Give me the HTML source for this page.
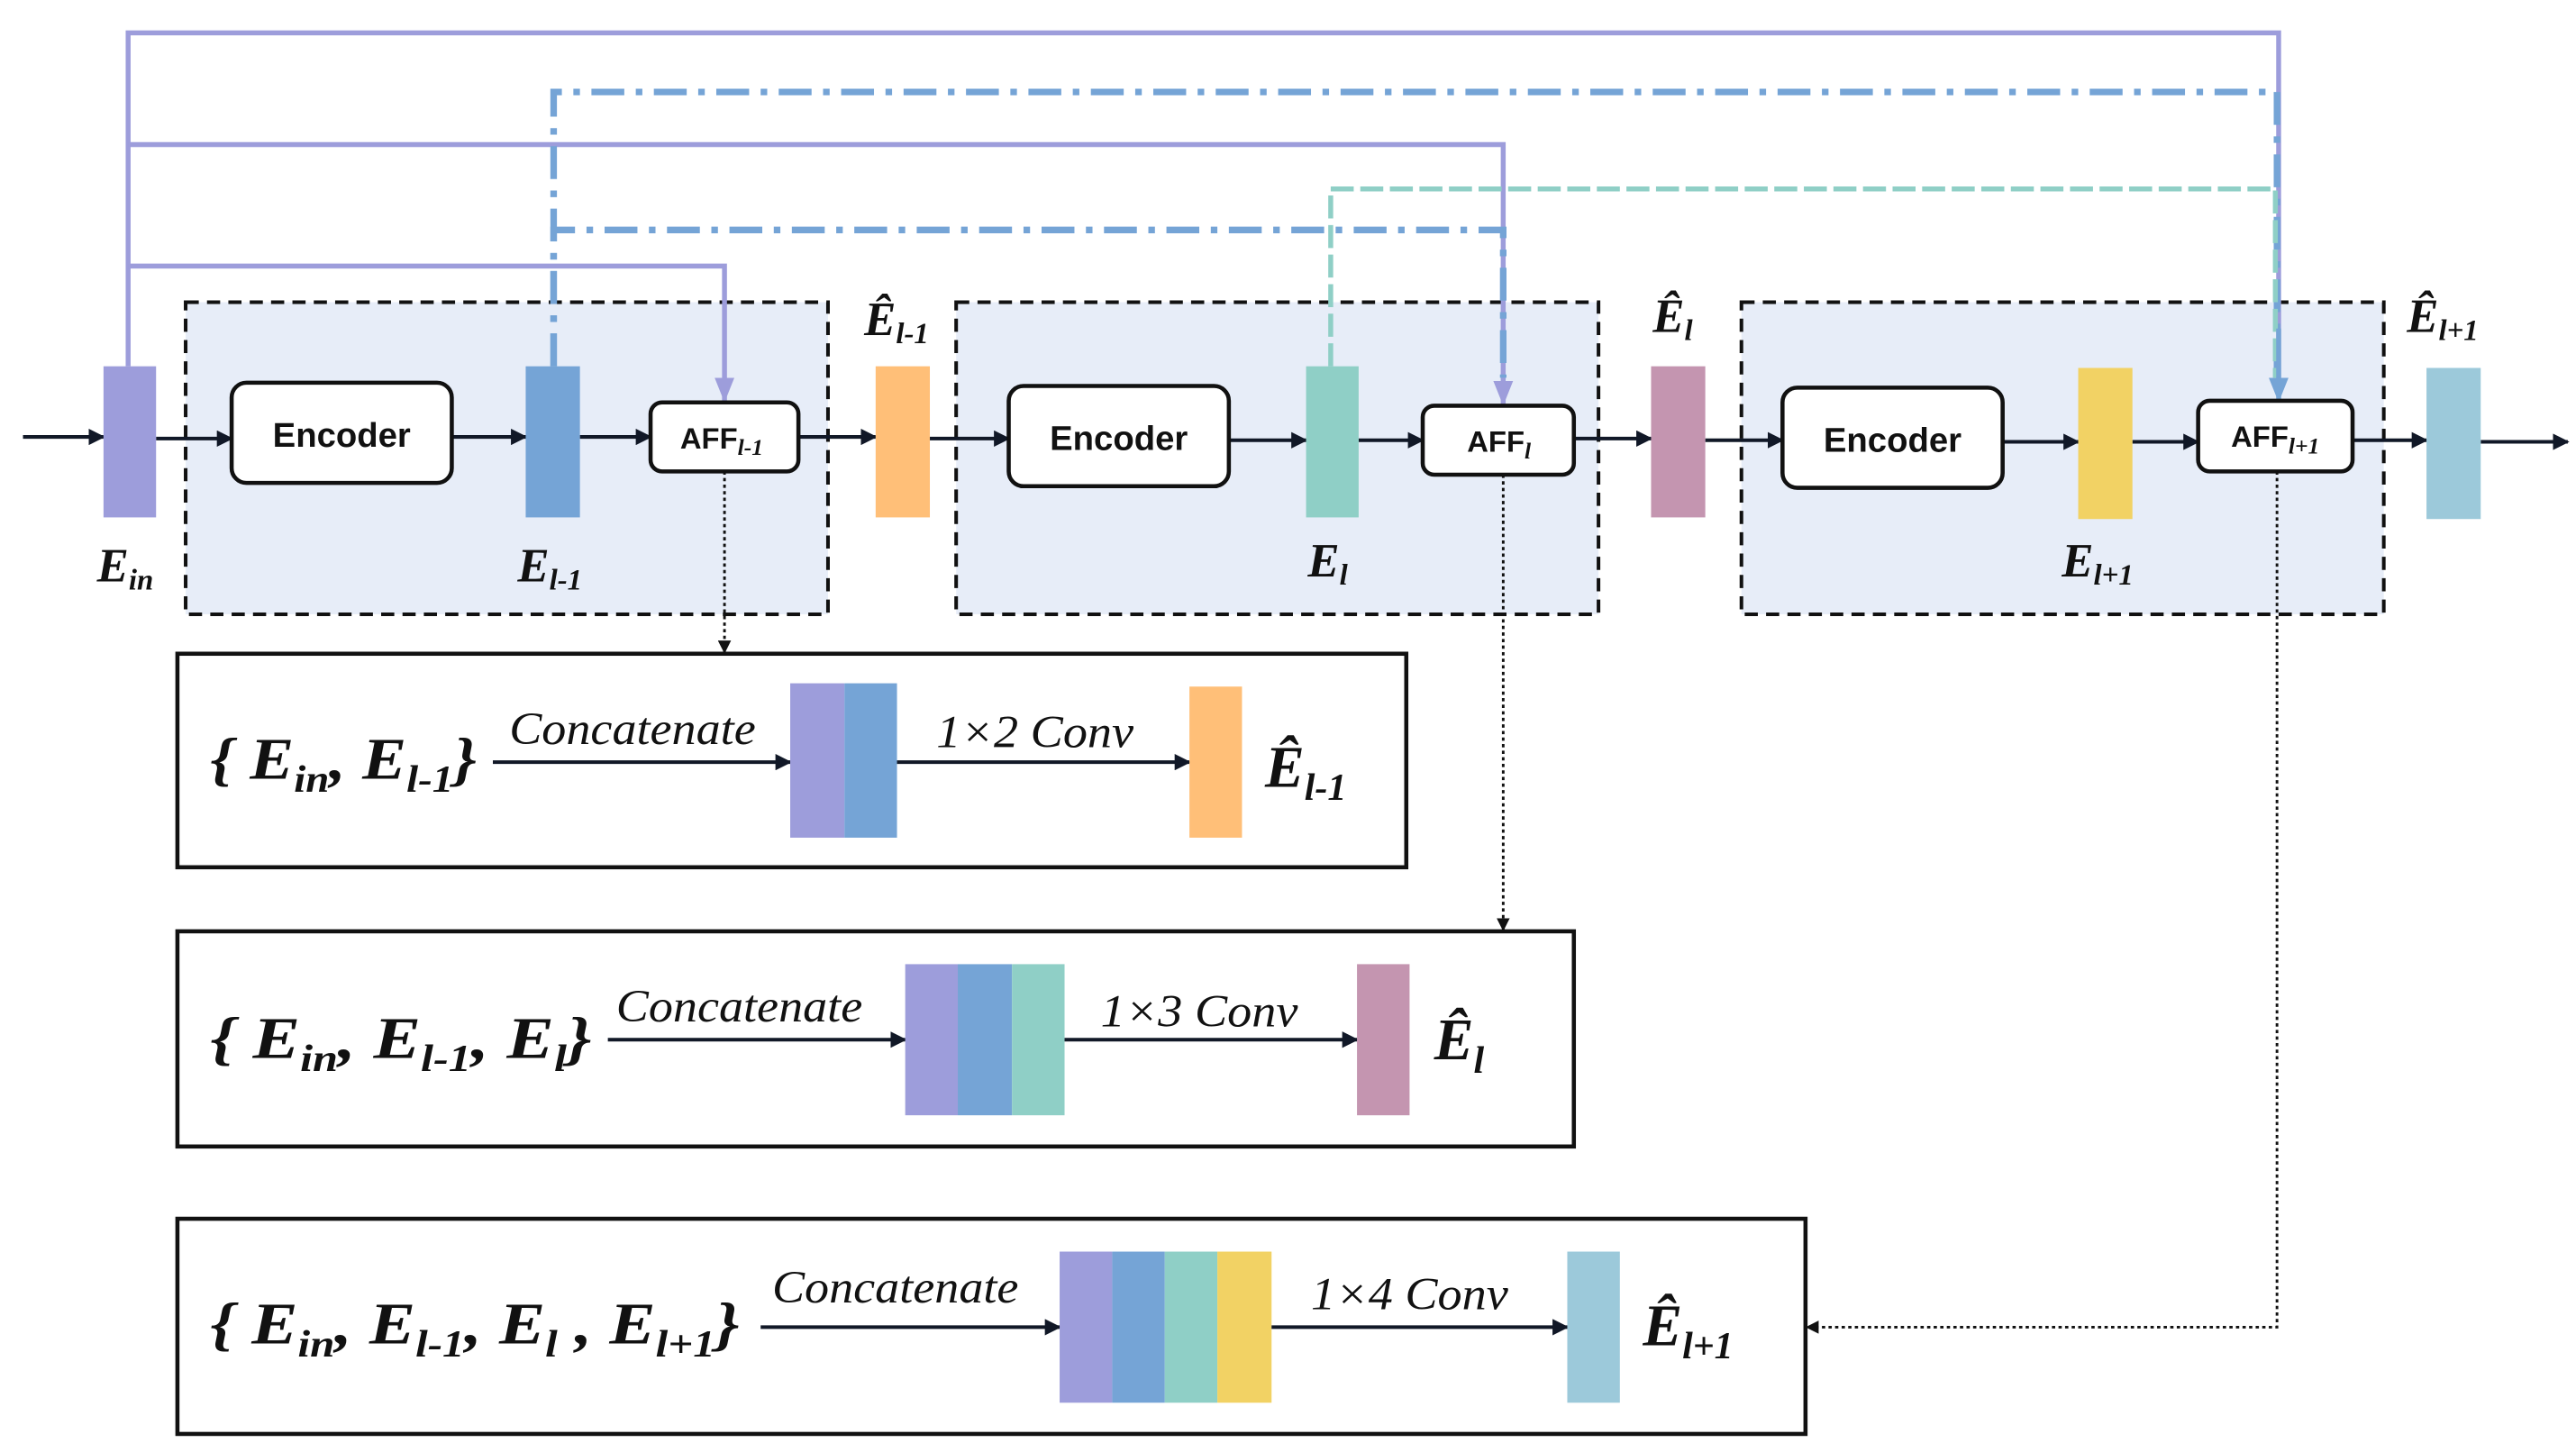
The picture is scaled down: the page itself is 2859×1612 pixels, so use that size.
<!DOCTYPE html>
<html><head><meta charset="utf-8"><style>
html,body{margin:0;padding:0;background:#fff;}
svg{display:block;}
.lab{font-family:"Liberation Serif",serif;font-style:italic;font-weight:bold;fill:#111;}
.enc{font-family:"Liberation Sans",sans-serif;font-weight:bold;fill:#111;}
.it{font-family:"Liberation Serif",serif;font-style:italic;fill:#111;}
</style></head><body>
<svg width="2859" height="1612" viewBox="0 0 1568 884" preserveAspectRatio="none" xmlns="http://www.w3.org/2000/svg">
<defs>
<marker id="ah" markerWidth="10" markerHeight="10" refX="9" refY="5" orient="auto" markerUnits="userSpaceOnUse"><path d="M0,0 L10,5 L0,10 Z" fill="#111827"/></marker>
<marker id="ahs" markerWidth="8" markerHeight="8" refX="7" refY="4" orient="auto" markerUnits="userSpaceOnUse"><path d="M0,0 L8,4 L0,8 Z" fill="#111"/></marker>
<marker id="ahp" markerWidth="15" markerHeight="12" refX="14" refY="6" orient="auto" markerUnits="userSpaceOnUse"><path d="M0,0 L15,6 L0,12 Z" fill="#9d9ddb"/></marker>
<marker id="ahb" markerWidth="15" markerHeight="12" refX="14" refY="6" orient="auto" markerUnits="userSpaceOnUse"><path d="M0,0 L15,6 L0,12 Z" fill="#75a4d6"/></marker>
</defs>

<g fill="#e7edf8" stroke="#111" stroke-width="2.2" stroke-dasharray="8 5">
<rect x="113" y="184" width="391" height="190"/>
<rect x="582" y="184" width="391" height="190"/>
<rect x="1060" y="184" width="391" height="190"/>
</g>

<g fill="none" stroke-linejoin="miter">
<polyline points="78,223 78,20 1387,20 1387,230" stroke="#9d9ddb" stroke-width="3"/>
<polyline points="78,88 915,88 915,246" stroke="#9d9ddb" stroke-width="3" marker-end="url(#ahp)"/>
<polyline points="78,162 441,162 441,244" stroke="#9d9ddb" stroke-width="3" marker-end="url(#ahp)"/>
<polyline points="337,223 337,56 1386,56 1386,230" stroke="#75a4d6" stroke-width="4" stroke-dasharray="20 7 4 7"/>
<polyline points="337,223 337,140 915,140 915,230" stroke="#75a4d6" stroke-width="4" stroke-dasharray="20 7 4 7"/>
<polyline points="810,223 810,115 1385,115 1385,230" stroke="#8fcfc6" stroke-width="3" stroke-dasharray="14 4"/>
<polyline points="1387,200 1387,244" stroke="#75a4d6" stroke-width="3" marker-end="url(#ahb)"/>
</g>

<g stroke="#111827" stroke-width="2.2" marker-end="url(#ah)">
<line x1="14" y1="266" x2="63" y2="266"/>
<line x1="95" y1="267" x2="141" y2="267"/>
<line x1="275" y1="266" x2="320" y2="266"/>
<line x1="353" y1="266" x2="396" y2="266"/>
<line x1="486" y1="266" x2="533" y2="266"/>
<line x1="566" y1="267" x2="614" y2="267"/>
<line x1="748" y1="268" x2="795" y2="268"/>
<line x1="827" y1="268" x2="866" y2="268"/>
<line x1="958" y1="267" x2="1005" y2="267"/>
<line x1="1038" y1="268" x2="1085" y2="268"/>
<line x1="1219" y1="269" x2="1265" y2="269"/>
<line x1="1298" y1="269" x2="1338" y2="269"/>
<line x1="1432" y1="268" x2="1477" y2="268"/>
<line x1="1510" y1="269" x2="1563" y2="269"/>
</g>

<rect x="63" y="223" width="32" height="92" fill="#9d9ddb"/>
<rect x="320" y="223" width="33" height="92" fill="#75a4d6"/>
<rect x="533" y="223" width="33" height="92" fill="#ffbf78"/>
<rect x="795" y="223" width="32" height="92" fill="#8fcfc6"/>
<rect x="1005" y="223" width="33" height="92" fill="#c495b0"/>
<rect x="1265" y="224" width="33" height="92" fill="#f2d264"/>
<rect x="1477" y="224" width="33" height="92" fill="#9cc9da"/>

<g fill="#fff" stroke="#111" stroke-width="2.5">
<rect x="141" y="233" width="134" height="61" rx="9"/>
<rect x="614" y="235" width="134" height="61" rx="9"/>
<rect x="1085" y="236" width="134" height="61" rx="9"/>
<rect x="396" y="245" width="90" height="42" rx="7"/>
<rect x="866" y="247" width="92" height="42" rx="7"/>
<rect x="1338" y="244" width="94" height="43" rx="7"/>
</g>
<g class="enc" font-size="21" text-anchor="middle">
<text x="208" y="272">Encoder</text>
<text x="681" y="274">Encoder</text>
<text x="1152" y="275">Encoder</text>
</g>
<g class="enc" font-size="18">
<text x="414" y="273">AFF<tspan class="it" font-size="14" dy="4">l-1</tspan></text>
<text x="893" y="275">AFF<tspan class="it" font-size="14" dy="4">l</tspan></text>
<text x="1358" y="272">AFF<tspan class="it" font-size="14" dy="4">l+1</tspan></text>
</g>

<g class="lab" font-size="29">
<text x="59" y="354">E<tspan font-size="18" dy="5">in</tspan></text>
<text x="315" y="354">E<tspan font-size="18" dy="5">l-1</tspan></text>
<text x="526" y="204">Ê<tspan font-size="18" dy="5">l-1</tspan></text>
<text x="796" y="351">E<tspan font-size="18" dy="5">l</tspan></text>
<text x="1006" y="202">Ê<tspan font-size="18" dy="5">l</tspan></text>
<text x="1255" y="351">E<tspan font-size="18" dy="5">l+1</tspan></text>
<text x="1465" y="202">Ê<tspan font-size="18" dy="5">l+1</tspan></text>
</g>

<g fill="none" stroke="#111" stroke-width="1.6" stroke-dasharray="2 2">
<line x1="441" y1="287" x2="441" y2="397" marker-end="url(#ahs)"/>
<line x1="915" y1="289" x2="915" y2="566" marker-end="url(#ahs)"/>
<polyline points="1386,287 1386,808 1100,808" marker-end="url(#ahs)"/>
</g>

<g fill="#fff" stroke="#111" stroke-width="2.5">
<rect x="108" y="398" width="748" height="130"/>
<rect x="108" y="567" width="850" height="131"/>
<rect x="108" y="742" width="991" height="131"/>
</g>

<!-- box A -->
<text class="lab" font-size="36" x="128" y="474" textLength="162" lengthAdjust="spacingAndGlyphs">{ E<tspan font-size="23" dy="8">in</tspan><tspan dy="-8">,  E</tspan><tspan font-size="23" dy="8">l-1</tspan><tspan dy="-8">}</tspan></text>
<text class="it" font-size="28" x="310" y="453" textLength="150" lengthAdjust="spacingAndGlyphs">Concatenate</text>
<line x1="300" y1="464" x2="481" y2="464" stroke="#111827" stroke-width="2.2" marker-end="url(#ah)"/>
<rect x="481" y="416" width="33" height="94" fill="#9d9ddb"/>
<rect x="514" y="416" width="32" height="94" fill="#75a4d6"/>
<line x1="546" y1="464" x2="724" y2="464" stroke="#111827" stroke-width="2.2" marker-end="url(#ah)"/>
<text class="it" font-size="28" x="570" y="455" font-style="normal" textLength="120" lengthAdjust="spacingAndGlyphs">1×2 <tspan font-style="italic">Conv</tspan></text>
<rect x="724" y="418" width="32" height="92" fill="#ffbf78"/>
<text class="lab" font-size="36" x="770" y="479">Ê<tspan font-size="23" dy="8">l-1</tspan></text>

<!-- box B -->
<text class="lab" font-size="36" x="128" y="644" textLength="232" lengthAdjust="spacingAndGlyphs">{ E<tspan font-size="23" dy="8">in</tspan><tspan dy="-8">,  E</tspan><tspan font-size="23" dy="8">l-1</tspan><tspan dy="-8">,   E</tspan><tspan font-size="23" dy="8">l</tspan><tspan dy="-8">}</tspan></text>
<text class="it" font-size="28" x="375" y="622" textLength="150" lengthAdjust="spacingAndGlyphs">Concatenate</text>
<line x1="370" y1="633" x2="551" y2="633" stroke="#111827" stroke-width="2.2" marker-end="url(#ah)"/>
<rect x="551" y="587" width="32" height="92" fill="#9d9ddb"/>
<rect x="583" y="587" width="33" height="92" fill="#75a4d6"/>
<rect x="616" y="587" width="32" height="92" fill="#8fcfc6"/>
<line x1="648" y1="633" x2="826" y2="633" stroke="#111827" stroke-width="2.2" marker-end="url(#ah)"/>
<text class="it" font-size="28" x="670" y="625" font-style="normal" textLength="120" lengthAdjust="spacingAndGlyphs">1×3 <tspan font-style="italic">Conv</tspan></text>
<rect x="826" y="587" width="32" height="92" fill="#c495b0"/>
<text class="lab" font-size="36" x="873" y="645">Ê<tspan font-size="23" dy="8">l</tspan></text>

<!-- box C -->
<text class="lab" font-size="36" x="128" y="818" textLength="322" lengthAdjust="spacingAndGlyphs">{ E<tspan font-size="23" dy="8">in</tspan><tspan dy="-8">, E</tspan><tspan font-size="23" dy="8">l-1</tspan><tspan dy="-8">,  E</tspan><tspan font-size="23" dy="8">l</tspan><tspan dy="-8"> , E</tspan><tspan font-size="23" dy="8">l+1</tspan><tspan dy="-8">}</tspan></text>
<text class="it" font-size="28" x="470" y="793" textLength="150" lengthAdjust="spacingAndGlyphs">Concatenate</text>
<line x1="463" y1="808" x2="645" y2="808" stroke="#111827" stroke-width="2.2" marker-end="url(#ah)"/>
<rect x="645" y="762" width="32" height="92" fill="#9d9ddb"/>
<rect x="677" y="762" width="32" height="92" fill="#75a4d6"/>
<rect x="709" y="762" width="32" height="92" fill="#8fcfc6"/>
<rect x="741" y="762" width="33" height="92" fill="#f2d264"/>
<line x1="774" y1="808" x2="954" y2="808" stroke="#111827" stroke-width="2.2" marker-end="url(#ah)"/>
<text class="it" font-size="28" x="798" y="797" font-style="normal" textLength="120" lengthAdjust="spacingAndGlyphs">1×4 <tspan font-style="italic">Conv</tspan></text>
<rect x="954" y="762" width="32" height="92" fill="#9cc9da"/>
<text class="lab" font-size="36" x="1000" y="819">Ê<tspan font-size="23" dy="8">l+1</tspan></text>
</svg>
</body></html>
